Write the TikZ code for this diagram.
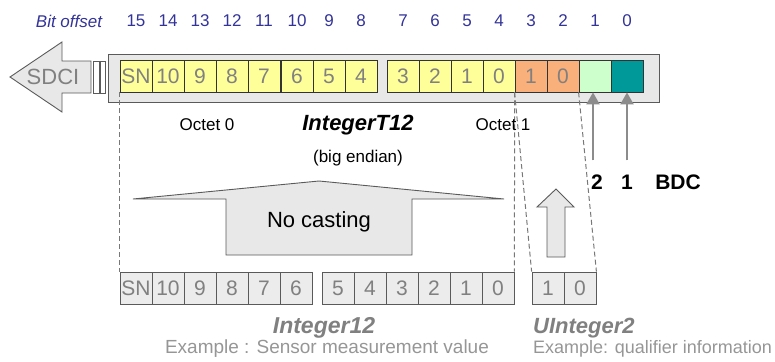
\documentclass[tikz,border=0pt]{standalone}
\usepackage{fontspec}
\setmainfont{Liberation Sans}
\usetikzlibrary{arrows.meta,calc}
\definecolor{cellyel}{RGB}{255,255,153}
\definecolor{cellorg}{RGB}{250,176,122}
\definecolor{cellgrn}{RGB}{204,255,204}
\definecolor{cellteal}{RGB}{0,153,153}
\definecolor{regbg}{RGB}{232,232,232}
\definecolor{cellgray}{RGB}{236,236,236}
\definecolor{offblue}{RGB}{51,51,153}
\definecolor{txtgray}{RGB}{128,128,128}
\definecolor{lightgray}{RGB}{150,150,150}
\definecolor{arrgray}{RGB}{140,140,140}
\definecolor{dashgray}{RGB}{120,120,120}
\definecolor{edgegray}{RGB}{90,90,90}
\begin{document}
\begin{tikzpicture}[x=1pt,y=-1pt,
  topcell/.style={draw=black!80,line width=0.8pt,minimum width=32pt,minimum height=32pt,inner sep=0pt,
    text=txtgray,font=\fontsize{21}{21}\selectfont},
  botcell/.style={topcell,draw=edgegray,fill=cellgray},
  offlbl/.style={text=offblue,font=\fontsize{17}{17}\selectfont,inner sep=0pt},
  plain/.style={font=\fontsize{17}{17}\selectfont,inner sep=0pt},
  bdclbl/.style={font=\fontsize{21}{21}\selectfont\bfseries,inner sep=0pt},
  dashline/.style={draw=dashgray,line width=1pt,dash pattern=on 5pt off 3pt},
  bdcarrow/.style={draw=arrgray,line width=2pt,-{Triangle[length=12pt,width=13pt]}},
  blockshape/.style={draw=edgegray,line width=0.9pt,fill=regbg}]
\useasboundingbox (0,0) rectangle (775,361);

% register background
\draw[draw=edgegray,line width=0.9pt,fill=regbg] (108,54) rectangle (659,102);

% SDCI arrow
\draw[blockshape] (10,77) -- (62,42) -- (62,61) -- (91,61) -- (91,93) -- (62,93) -- (62,112) -- cycle;
\draw[draw=edgegray,line width=0.8pt,fill=white] (93,61) rectangle (99,93);
\draw[draw=edgegray,line width=0.8pt,fill=white] (100,61) rectangle (105,93);
\node[text=txtgray,font=\fontsize{22}{22}\selectfont,inner sep=0pt] (sdci) at (53,77) {SDCI};

% top cells
\foreach \n/\x/\lab/\col in {15/136/SN/cellyel,14/168/10/cellyel,13/200/9/cellyel,12/232/8/cellyel,
  11/264/7/cellyel,10/297/6/cellyel,9/329/5/cellyel,8/361/4/cellyel,
  7/403/3/cellyel,6/435/2/cellyel,5/467/1/cellyel,4/499/0/cellyel,
  3/531/1/cellorg,2/563/0/cellorg,1/595/{}/cellgrn,0/627/{}/cellteal}{
  \node[topcell,fill=\col] (t\n) at (\x,76) {\lab};
  \node[offlbl] (o\n) at (\x,21) {\n};
}
\node[offlbl,font=\fontsize{17}{17}\selectfont\itshape] (boff) at (69,21) {Bit offset};

% bottom cells
\foreach \n/\x/\lab in {11/136/SN,10/168/10,9/200/9,8/232/8,7/264/7,6/296/6,
  5/338/5,4/370/4,3/402/3,2/434/2,1/466/1,0/498/0}{
  \node[botcell] (b\n) at (\x,288) {\lab};
}
\node[botcell] (u1) at (548,288) {1};
\node[botcell] (u0) at (580,288) {0};

% dashed mapping lines
\draw[dashline] (t15.south west) -- (b11.north west);
\draw[dashline] (t3.south west) -- (b0.north east);
\draw[dashline] (t3.south west) -- (u1.north west);
\draw[dashline] (t1.south west) -- (u0.north east);

% BDC arrows and labels
\node[bdclbl] (l2) at (597,182) {2};
\node[bdclbl] (l1) at (627,182) {1};
\node[bdclbl] (lbdc) at (678,182) {BDC};
\coordinate (a2) at ($(t1.south)+(-2,68)$);
\coordinate (a1) at ($(t0.south)+(0,68)$);
\draw[bdcarrow] (a2) -- (t1.south -| a2);
\draw[bdcarrow] (a1) -- (t0.south);

% texts
\node[plain] (oct0) at (207,125) {Octet 0};
\node[font=\fontsize{22}{22}\selectfont\bfseries\itshape,inner sep=0pt] (it12) at (358,125) {IntegerT12};
\node[plain] (be) at (358,158) {(big endian)};
\node[plain] (oct1) at (503,125) {Octet 1};

% No casting block
\draw[blockshape] (133,199) -- (319,181) -- (504,199) -- (412,199) -- (412,255) -- (226,255) -- (226,199) -- cycle;
\node[font=\fontsize{22}{22}\selectfont,inner sep=0pt] (nc) at (319,222) {No casting};

% small up arrow
\draw[blockshape] (556,189) -- (574,207) -- (565,207) -- (565,257) -- (547,257) -- (547,207) -- (537,207) -- cycle;

% bottom labels
\node[text=txtgray,font=\fontsize{23}{23}\selectfont\bfseries\itshape,inner sep=0pt] (i12) at (324,328) {Integer12};
\node[text=lightgray,font=\fontsize{19}{19}\selectfont,inner sep=0pt] (ex1) at (327,349) {Example : Sensor measurement value};
\node[text=txtgray,font=\fontsize{22}{22}\selectfont\bfseries\itshape,inner sep=0pt,anchor=west] (ui2) at (533,328) {UInteger2};
\node[text=lightgray,font=\fontsize{18}{18}\selectfont,inner sep=0pt,anchor=west] (ex2) at (533,349) {Example: qualifier information};
\end{tikzpicture}
\end{document}
